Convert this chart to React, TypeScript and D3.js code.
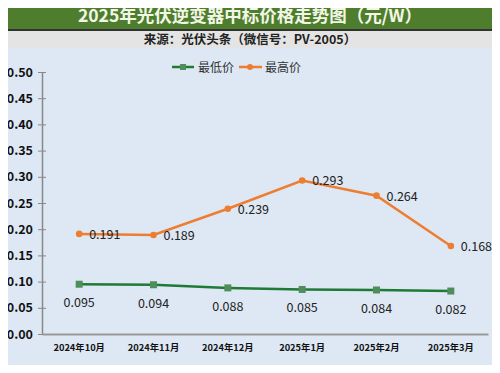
import { useEffect, useRef } from 'react';
import * as d3 from 'd3';

const months = ['2024年10月', '2024年11月', '2024年12月', '2025年1月', '2025年2月', '2025年3月'];
const lowPrice = [0.095, 0.094, 0.088, 0.085, 0.084, 0.082];
const highPrice = [0.191, 0.189, 0.239, 0.293, 0.264, 0.168];
const yTicks = [0, 0.05, 0.1, 0.15, 0.2, 0.25, 0.3, 0.35, 0.4, 0.45, 0.5];

const title = '2025年光伏逆变器中标价格走势图（元/W）';
const subtitle = '来源：光伏头条（微信号：PV-2005）';

export default function App() {
  const svgRef = useRef<SVGSVGElement>(null);

  useEffect(() => {
    const width = 500;
    const height = 373;
    const margin = { top: 72, right: 12, bottom: 39, left: 42 };
    const font = "'Noto Sans CJK SC', 'Noto Sans', sans-serif";
    const green = '#1f7a35';
    const orange = '#ed7d31';

    const svg = d3.select(svgRef.current);
    svg.selectAll('*').remove();

    // Backgrounds
    svg.append('rect').attr('width', width).attr('height', height).attr('fill', '#dde8f4');
    svg.append('rect').attr('width', width).attr('height', 30).attr('fill', '#4e7e2d');
    svg.append('rect').attr('y', 30).attr('width', width).attr('height', 18).attr('fill', '#e4e4e4');
    svg
      .append('rect')
      .attr('x', 1)
      .attr('y', 30)
      .attr('width', width - 3)
      .attr('height', height - 32)
      .attr('fill', 'none')
      .attr('stroke', '#333')
      .attr('stroke-width', 2);

    svg
      .append('text')
      .attr('x', width / 2)
      .attr('y', 22)
      .attr('text-anchor', 'middle')
      .attr('font-family', font)
      .attr('font-size', 17.5)
      .attr('font-weight', 'bold')
      .attr('fill', '#f2f6e6')
      .text(title);

    svg
      .append('text')
      .attr('x', width / 2)
      .attr('y', 44)
      .attr('text-anchor', 'middle')
      .attr('font-family', font)
      .attr('font-size', 12.5)
      .attr('font-weight', 'bold')
      .attr('fill', '#222')
      .text(subtitle);

    const x = d3
      .scaleBand()
      .domain(months)
      .range([margin.left, width - margin.right]);

    const y = d3
      .scaleLinear()
      .domain([0, 0.5])
      .range([height - margin.bottom, margin.top]);

    const cx = (i: number) => x(months[i])! + x.bandwidth() / 2;

    // Y axis
    const yAxis = svg
      .append('g')
      .attr('transform', `translate(${margin.left},0)`)
      .call(
        d3
          .axisLeft(y)
          .tickValues(yTicks)
          .tickFormat(d3.format('.2f'))
          .tickSizeInner(4)
          .tickSizeOuter(0)
      );
    yAxis.select('.domain').attr('stroke', '#888').attr('stroke-width', 1.5);
    yAxis
      .selectAll('.tick line')
      .attr('x1', 4)
      .attr('x2', -4)
      .attr('stroke', '#888');
    yAxis
      .selectAll('.tick text')
      .attr('x', -9)
      .attr('font-family', font)
      .attr('font-size', 12.5)
      .attr('font-weight', 'bold')
      .attr('fill', '#111');

    // X axis
    const xAxis = svg
      .append('g')
      .attr('transform', `translate(0,${height - margin.bottom})`)
      .call(d3.axisBottom(x).tickSize(0).tickPadding(10));
    xAxis.select('.domain').attr('stroke', '#999').attr('stroke-width', 2);
    xAxis
      .selectAll('.tick text')
      .attr('font-family', font)
      .attr('font-size', 9.3)
      .attr('font-weight', 'bold')
      .attr('fill', '#111');

    const line = d3
      .line<number>()
      .x((_, i) => cx(i))
      .y(d => y(d));

    // High price series
    svg
      .append('path')
      .datum(highPrice)
      .attr('d', line)
      .attr('fill', 'none')
      .attr('stroke', orange)
      .attr('stroke-width', 2.5);
    svg
      .append('g')
      .selectAll('circle')
      .data(highPrice)
      .enter()
      .append('circle')
      .attr('cx', (_, i) => cx(i))
      .attr('cy', d => y(d))
      .attr('r', 3.3)
      .attr('fill', orange);
    svg
      .append('g')
      .selectAll('text')
      .data(highPrice)
      .enter()
      .append('text')
      .attr('x', (_, i) => cx(i) + 10)
      .attr('y', d => y(d) + 5)
      .attr('font-family', font)
      .attr('font-size', 12.5)
      .attr('fill', '#222')
      .text(d => d.toFixed(3));

    // Low price series
    svg
      .append('path')
      .datum(lowPrice)
      .attr('d', line)
      .attr('fill', 'none')
      .attr('stroke', green)
      .attr('stroke-width', 2.5);
    svg
      .append('g')
      .selectAll('rect')
      .data(lowPrice)
      .enter()
      .append('rect')
      .attr('x', (_, i) => cx(i) - 3.5)
      .attr('y', d => y(d) - 3.5)
      .attr('width', 7)
      .attr('height', 7)
      .attr('fill', '#4f8d5a');
    svg
      .append('g')
      .selectAll('text')
      .data(lowPrice)
      .enter()
      .append('text')
      .attr('x', (_, i) => cx(i))
      .attr('y', d => y(d) + 23)
      .attr('text-anchor', 'middle')
      .attr('font-family', font)
      .attr('font-size', 12.5)
      .attr('fill', '#222')
      .text(d => d.toFixed(3));

    // Legend
    const legend = svg.append('g').attr('transform', 'translate(0,67)');
    legend
      .append('line')
      .attr('x1', 172)
      .attr('x2', 194)
      .attr('stroke', green)
      .attr('stroke-width', 2.5);
    legend.append('rect').attr('x', 180).attr('y', -3).attr('width', 6).attr('height', 6).attr('fill', '#4f8d5a');
    legend
      .append('text')
      .attr('x', 198)
      .attr('y', 4.5)
      .attr('font-family', font)
      .attr('font-size', 12)
      .attr('fill', '#333')
      .text('最低价');
    legend
      .append('line')
      .attr('x1', 239)
      .attr('x2', 262)
      .attr('stroke', orange)
      .attr('stroke-width', 2.5);
    legend.append('circle').attr('cx', 250).attr('cy', 0).attr('r', 3).attr('fill', orange);
    legend
      .append('text')
      .attr('x', 265)
      .attr('y', 4.5)
      .attr('font-family', font)
      .attr('font-size', 12)
      .attr('fill', '#333')
      .text('最高价');
  }, []);

  return (
    <div style={{ margin: -8 }}>
      <svg ref={svgRef} width={500} height={373} style={{ display: 'block' }}></svg>
    </div>
  );
}
